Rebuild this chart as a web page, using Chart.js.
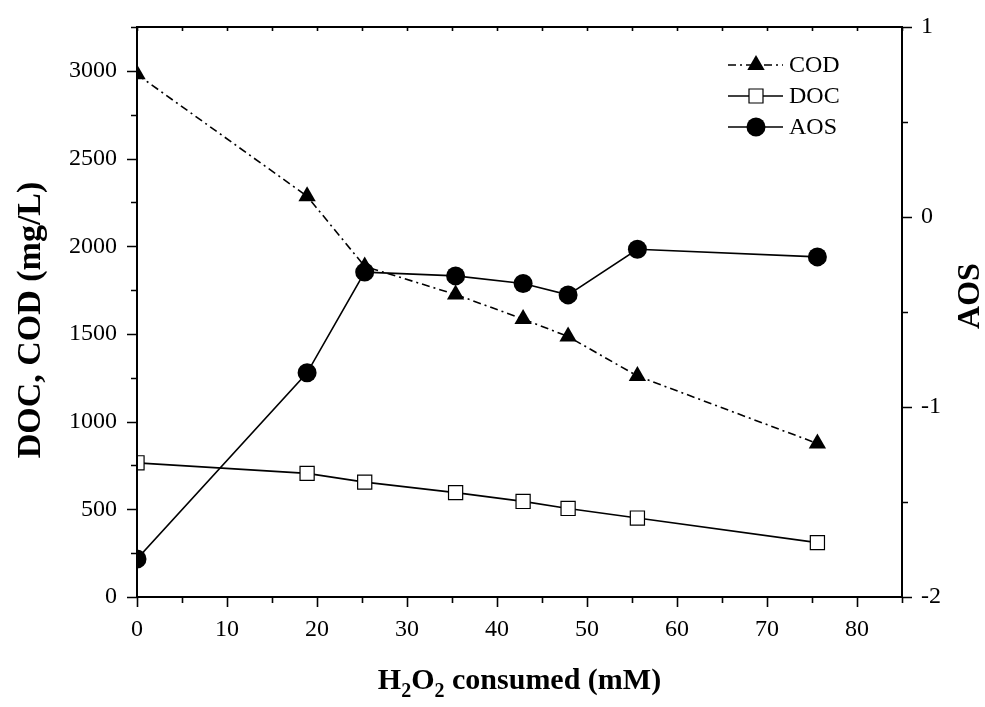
<!DOCTYPE html>
<html>
<head>
<meta charset="utf-8">
<script src="https://cdn.jsdelivr.net/npm/chart.js@4.4.1/dist/chart.umd.min.js"></script>
<style>
  html, body { margin: 0; padding: 0; background: #fff; }
  #wrap { width: 985px; height: 707px; }
</style>
</head>
<body>
<div id="wrap"><canvas id="c" width="985" height="707"></canvas></div>
<script>
// values
const h2o2 = [0, 18.9, 25.3, 35.4, 42.9, 47.9, 55.6, 75.6]
const cod = [2980, 2285, 1885, 1725, 1585, 1485, 1260, 875]
const doc = [765, 705, 655, 595, 545, 505, 450, 310]
const aos = [-1.8, -0.82, -0.29, -0.31, -0.35, -0.41, -0.17, -0.21]

const xTicks = [0, 10, 20, 30, 40, 50, 60, 70, 80]
const leftTicks = [0, 500, 1000, 1500, 2000, 2500, 3000]
const rightTicks = [-2, -1, 0, 1]

const serif = '"Liberation Serif", "Times New Roman", serif'
const pts = (ys) => h2o2.map((x, i) => ({ x: x, y: ys[i] }))

const legendItems = [
  { label: 'COD', dash: [8, 4, 2, 4], style: 'triangle' },
  { label: 'DOC', dash: [], style: 'rect' },
  { label: 'AOS', dash: [], style: 'circle' }
]

function marker(ctx, style, x, y) {
  ctx.save()
  ctx.setLineDash([])
  ctx.lineWidth = 1.2
  ctx.strokeStyle = '#000'
  ctx.beginPath()
  if (style == 'triangle') {
    ctx.fillStyle = '#000'
    ctx.moveTo(x, y - 10); ctx.lineTo(x + 8.7, y + 5); ctx.lineTo(x - 8.7, y + 5); ctx.closePath()
    ctx.fill()
  } else if (style == 'rect') {
    ctx.fillStyle = '#fff'
    ctx.rect(x - 7, y - 7, 14, 14)
    ctx.fill(); ctx.stroke()
  } else {
    ctx.fillStyle = '#000'
    ctx.arc(x, y, 9.5, 0, Math.PI * 2)
    ctx.fill()
  }
  ctx.restore()
}

// keep markers inside the frame like the original
const clipper = {
  id: 'clipper',
  beforeDatasetsDraw(chart) {
    const a = chart.chartArea
    chart.ctx.save()
    chart.ctx.beginPath()
    chart.ctx.rect(a.left, a.top, a.right - a.left, a.bottom - a.top)
    chart.ctx.clip()
  },
  afterDatasetsDraw(chart) {
    chart.ctx.restore()
  }
}

const decor = {
  id: 'decor',
  afterDraw(chart) {
    const ctx = chart.ctx
    const a = chart.chartArea
    const sx = chart.scales.x, sl = chart.scales.y, sr = chart.scales.y2
    ctx.save()
    ctx.strokeStyle = '#000'
    ctx.lineWidth = 2
    ctx.strokeRect(a.left, a.top, a.right - a.left, a.bottom - a.top)
    ctx.lineWidth = 1.6
    ctx.beginPath()
    // bottom ticks (outward) and top ticks (inward)
    for (let v = 0; v <= 85; v += 5) {
      const px = Math.round(sx.getPixelForValue(v)) + 0.5
      const len = v % 10 == 0 ? 10 : 6
      ctx.moveTo(px, a.bottom); ctx.lineTo(px, a.bottom + len)
      ctx.moveTo(px, a.top); ctx.lineTo(px, a.top + 4)
    }
    // left ticks
    for (let v = 0; v <= 3250; v += 250) {
      const py = Math.round(sl.getPixelForValue(v)) + 0.5
      const len = v % 500 == 0 ? 10 : 6
      ctx.moveTo(a.left, py); ctx.lineTo(a.left - len, py)
    }
    // right ticks
    for (let v = -2; v <= 1.001; v += 0.5) {
      const py = Math.round(sr.getPixelForValue(v)) + 0.5
      const len = Math.abs(v % 1) < 0.01 ? 10 : 6
      ctx.moveTo(a.right, py); ctx.lineTo(a.right + len, py)
    }
    ctx.stroke()

    // axis titles
    ctx.fillStyle = '#000'
    ctx.textBaseline = 'alphabetic'
    const big = 'bold 30px ' + serif
    const sub = 'bold 20px ' + serif
    const parts = [['H', big, 0], ['2', sub, 8], ['O', big, 0], ['2', sub, 8], [' consumed (mM)', big, 0]]
    let w = 0
    parts.forEach(p => { ctx.font = p[1]; w += ctx.measureText(p[0]).width })
    let tx = (a.left + a.right) / 2 - w / 2
    ctx.textAlign = 'left'
    parts.forEach(p => {
      ctx.font = p[1]
      ctx.fillText(p[0], tx, 689 + p[2])
      tx += ctx.measureText(p[0]).width
    })

    ctx.textAlign = 'center'
    ctx.font = 'bold 34px ' + serif
    ctx.save()
    ctx.translate(40, 320)
    ctx.rotate(-Math.PI / 2)
    ctx.fillText('DOC, COD (mg/L)', 0, 0)
    ctx.restore()
    ctx.font = 'bold 32px ' + serif
    ctx.save()
    ctx.translate(979, 296)
    ctx.rotate(-Math.PI / 2)
    ctx.fillText('AOS', 0, 0)
    ctx.restore()

    // legend
    ctx.font = '24px ' + serif
    ctx.textAlign = 'left'
    ctx.textBaseline = 'middle'
    legendItems.forEach((it, i) => {
      const y = 65 + i * 31
      ctx.lineWidth = 1.5
      ctx.setLineDash(it.dash)
      ctx.beginPath()
      ctx.moveTo(728, y); ctx.lineTo(783, y)
      ctx.stroke()
      ctx.setLineDash([])
      marker(ctx, it.style, 756, y)
      ctx.fillText(it.label, 789, y + 1)
    })
    ctx.restore()
  }
}

new Chart(document.getElementById('c'), {
  type: 'scatter',
  data: {
    datasets: [{
      label: 'COD',
      data: pts(cod),
      yAxisID: 'y',
      showLine: true,
      borderColor: '#000',
      borderWidth: 1.6,
      borderDash: [8, 4, 2, 4],
      pointStyle: 'triangle',
      pointRadius: 10,
      pointBackgroundColor: '#000',
      pointBorderWidth: 0
    }, {
      label: 'DOC',
      data: pts(doc),
      yAxisID: 'y',
      showLine: true,
      borderColor: '#000',
      borderWidth: 1.6,
      pointStyle: 'rect',
      pointRadius: 10,
      pointBackgroundColor: '#fff',
      pointBorderColor: '#000',
      pointBorderWidth: 1.2
    }, {
      label: 'AOS',
      data: pts(aos),
      yAxisID: 'y2',
      showLine: true,
      borderColor: '#000',
      borderWidth: 1.6,
      pointStyle: 'circle',
      pointRadius: 9.5,
      pointBackgroundColor: '#000',
      pointBorderWidth: 0
    }]
  },
  options: {
    responsive: false,
    animation: false,
    layout: { padding: { top: 27, left: 0, right: 0, bottom: 0 } },
    plugins: { legend: { display: false }, tooltip: { enabled: false } },
    scales: {
      x: {
        type: 'linear',
        min: 0, max: 85,
        afterFit: s => { s.height = 110 },
        afterBuildTicks: s => { s.ticks = xTicks.map(v => ({ value: v })) },
        grid: { display: false },
        border: { display: false },
        ticks: { color: '#000', padding: 10, font: { family: serif, size: 24 }, callback: v => String(v) }
      },
      y: {
        position: 'left',
        min: 0, max: 3250,
        afterFit: s => { s.width = 137 },
        afterBuildTicks: s => { s.ticks = leftTicks.map(v => ({ value: v })) },
        grid: { display: false },
        border: { display: false },
        ticks: { color: '#000', padding: 12, font: { family: serif, size: 24 }, callback: v => String(v) }
      },
      y2: {
        position: 'right',
        min: -2, max: 1,
        afterFit: s => { s.width = 83 },
        afterBuildTicks: s => { s.ticks = rightTicks.map(v => ({ value: v })) },
        grid: { display: false },
        border: { display: false },
        ticks: { color: '#000', padding: 11, font: { family: serif, size: 24 }, callback: v => String(v) }
      }
    }
  },
  plugins: [clipper, decor]
})
</script>
</body>
</html>
